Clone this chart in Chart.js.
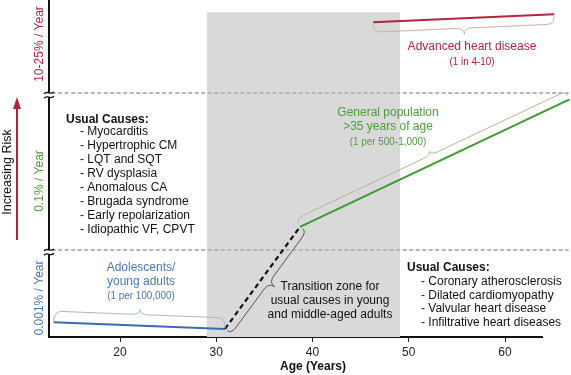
<!DOCTYPE html>
<html>
<head>
<meta charset="utf-8">
<script src="https://cdn.jsdelivr.net/npm/chart.js@4"></script>
<style>
  body { margin: 0; background: #fff; }
  #wrap { width: 571px; height: 375px; position: relative; }
</style>
</head>
<body>
<div id="wrap"><canvas id="chart_risk"></canvas></div>
<script>
// values (risk is an arbitrary 0-100 scale)
const xTicks = [20, 30, 40, 50, 60];
const youngAge = [13.1, 30.9];
const youngRisk = [4.4, 2.4];
const transitionAge = [30.9, 38.7];
const transitionRisk = [2.4, 32.7];
const generalAge = [38.7, 66.7];
const generalRisk = [32.7, 70.5];
const advancedAge = [46.3, 65.1];
const advancedRisk = [93.4, 95.8];
const zoneAge = [29.0, 49.1];
const zoneTop = [96.4, 96.4];
const breakAge = [12.9, 66.6];
const breakRisk = [25.8, 72.4];
const bandLabels = ['10-25% / Year', '0.1% / Year', '0.001% / Year'];
const youngCauses = ['Myocarditis', 'Hypertrophic CM', 'LQT and SQT', 'RV dysplasia',
  'Anomalous CA', 'Brugada syndrome', 'Early repolarization', 'Idiopathic VF, CPVT'];
const olderCauses = ['Coronary atherosclerosis', 'Dilated cardiomyopathy',
  'Valvular heart disease', 'Infiltrative heart diseases'];

const FONT = '"Liberation Sans", Arial, sans-serif';
const RED = '#b1253d', GREEN = '#4f9a3e', BLUE = '#4a77b4';

function pts(xs, ys) {
  return xs.map((x, i) => ({ x: x, y: ys[i] }));
}

function drawBrace(ctx, a, b, side, e, body, tip, color) {
  const dx = b.x - a.x, dy = b.y - a.y, L = Math.hypot(dx, dy);
  const ux = dx / L, uy = dy / L, nx = uy * side, ny = -ux * side;
  const P = (s, d) => [a.x + ux * s + nx * d, a.y + uy * s + ny * d];
  const r = Math.min(8, L / 6), m = L / 2;
  ctx.save();
  ctx.strokeStyle = color;
  ctx.lineWidth = 1;
  ctx.beginPath();
  ctx.moveTo(...P(0, e));
  ctx.quadraticCurveTo(...P(0, body), ...P(r, body));
  ctx.lineTo(...P(m - r, body));
  ctx.quadraticCurveTo(...P(m, body), ...P(m, tip));
  ctx.quadraticCurveTo(...P(m, body), ...P(m + r, body));
  ctx.lineTo(...P(L - r, body));
  ctx.quadraticCurveTo(...P(L, body), ...P(L, e));
  ctx.stroke();
  ctx.restore();
}

function write(ctx, str, x, y, font, color, align) {
  ctx.font = font;
  ctx.fillStyle = color;
  ctx.textAlign = align || 'center';
  ctx.textBaseline = 'middle';
  ctx.fillText(str, x, y);
}

// small condensed note like "(1 per 100,000)"
function note(ctx, str, x, y, color) {
  ctx.save();
  ctx.translate(x, y);
  ctx.scale(0.86, 1);
  write(ctx, str, 0, 0, '11.5px ' + FONT, color);
  ctx.restore();
}

const annotations = {
  id: 'annotations',
  afterDraw(chart) {
    const ctx = chart.ctx;
    const area = chart.chartArea;

    // braces along the risk lines
    const braces = [
      { ds: 2, side: 1, e: 1, body: 11, tip: 16, color: '#a7b6c8' },
      { ds: 0, side: 1, e: 4, body: 9, tip: 13, color: '#aebb92' },
      { ds: 1, side: -1, e: 2, body: 10, tip: 16, color: '#cdb09c' },
      { ds: 3, side: -1, e: 3, body: 8, tip: 15, color: '#555' }
    ];
    braces.forEach(br => {
      const d = chart.getDatasetMeta(br.ds).data;
      drawBrace(ctx, d[0], d[1], br.side, br.e, br.body, br.tip, br.color);
    });

    // axis breaks
    const ys = chart.scales.y;
    breakRisk.forEach(v => {
      const y = ys.getPixelForValue(v) + 2;
      const x = area.left;
      ctx.save();
      ctx.fillStyle = '#fff';
      ctx.fillRect(x - 2, y - 2, 4, 4);
      ctx.strokeStyle = '#111';
      ctx.lineWidth = 1.3;
      [-2.2, 2.2].forEach(o => {
        ctx.beginPath();
        ctx.moveTo(x - 5, y + o + 1);
        ctx.bezierCurveTo(x - 2, y + o - 3, x + 2, y + o + 3, x + 5, y + o - 1);
        ctx.stroke();
      });
      ctx.restore();
    });

    // rotated band labels and the risk arrow
    const bandY = [44, 181, 298];
    const bandColors = [RED, GREEN, BLUE];
    bandLabels.forEach((s, i) => {
      ctx.save();
      ctx.translate(40, bandY[i]);
      ctx.rotate(-Math.PI / 2);
      write(ctx, s, 0, 0, '12px ' + FONT, bandColors[i]);
      ctx.restore();
    });
    ctx.save();
    ctx.translate(8, 172);
    ctx.rotate(-Math.PI / 2);
    write(ctx, 'Increasing Risk', 0, 0, '12.5px ' + FONT, '#111');
    ctx.restore();

    ctx.save();
    ctx.strokeStyle = '#a8283b';
    ctx.fillStyle = '#a8283b';
    ctx.lineWidth = 2;
    ctx.beginPath();
    ctx.moveTo(17, 240);
    ctx.lineTo(17, 106);
    ctx.stroke();
    ctx.beginPath();
    ctx.moveTo(17, 97);
    ctx.lineTo(21, 109);
    ctx.lineTo(13, 109);
    ctx.closePath();
    ctx.fill();
    ctx.restore();

    // causes lists
    write(ctx, 'Usual Causes:', 66, 120, 'bold 12px ' + FONT, '#111', 'left');
    youngCauses.forEach((s, i) => write(ctx, '- ' + s, 80, 132 + i * 13.9, '12px ' + FONT, '#111', 'left'));
    write(ctx, 'Usual Causes:', 407, 268, 'bold 12px ' + FONT, '#111', 'left');
    olderCauses.forEach((s, i) => write(ctx, '- ' + s, 421, 281.5 + i * 13.7, '12px ' + FONT, '#111', 'left'));

    // group labels
    ['Transition zone for', 'usual causes in young', 'and middle-aged adults']
      .forEach((s, i) => write(ctx, s, 330, 287 + i * 13.6, '12px ' + FONT, '#111'));
    write(ctx, 'Adolescents/', 141, 268, '12px ' + FONT, BLUE);
    write(ctx, 'young adults', 141, 282, '12px ' + FONT, BLUE);
    note(ctx, '(1 per 100,000)', 141, 296, BLUE);
    write(ctx, 'General population', 388, 113, '12px ' + FONT, GREEN);
    write(ctx, '>35 years of age', 388, 127, '12px ' + FONT, GREEN);
    note(ctx, '(1 per 500-1,000)', 388, 142, GREEN);
    write(ctx, 'Advanced heart disease', 472, 47, '12px ' + FONT, RED);
    note(ctx, '(1 in 4-10)', 472, 62, RED);

    write(ctx, 'Age (Years)', 313, 367, 'bold 12px ' + FONT, '#111');
  }
};

new Chart(document.getElementById('chart_risk'), {
  type: 'line',
  data: {
    datasets: [
      { data: pts(generalAge, generalRisk), borderColor: '#3d9a30', borderWidth: 2, clip: false, order: 1 },
      { data: pts(advancedAge, advancedRisk), borderColor: '#b1253d', borderWidth: 2, clip: false, order: 1 },
      { data: pts(youngAge, youngRisk), borderColor: '#3b6cb3', borderWidth: 2, order: 1 },
      { data: pts(transitionAge, transitionRisk), borderColor: '#111', borderWidth: 2.2, borderDash: [5, 3.5], order: 1 },
      { data: pts(breakAge, [breakRisk[0], breakRisk[0]]), borderColor: '#b5b5b5', borderWidth: 2, borderDash: [4, 2.5], clip: false, order: 2 },
      { data: pts(breakAge, [breakRisk[1], breakRisk[1]]), borderColor: '#b5b5b5', borderWidth: 2, borderDash: [4, 2.5], clip: false, order: 2 },
      { data: pts(zoneAge, zoneTop), borderWidth: 0, backgroundColor: '#d9d9d9', fill: 'start', order: 3 }
    ]
  },
  options: {
    responsive: true,
    maintainAspectRatio: false,
    animation: false,
    layout: { padding: { left: 0, right: 29, top: 0, bottom: 0 } },
    plugins: { legend: { display: false }, tooltip: { enabled: false } },
    elements: { point: { radius: 0 }, line: { tension: 0 } },
    scales: {
      x: {
        type: 'linear',
        min: 12.62,
        max: 63.84,
        afterFit: function (s) { s.height = 38; },
        afterBuildTicks: function (s) { s.ticks = xTicks.map(v => ({ value: v })); },
        grid: { drawOnChartArea: false, tickLength: 5, color: '#222', lineWidth: 1 },
        border: { color: '#111', width: 2 },
        ticks: { color: '#222', font: { family: FONT, size: 12 }, padding: 3, maxRotation: 0 }
      },
      y: {
        min: 0,
        max: 100,
        afterFit: function (s) { s.width = 49; },
        grid: { display: false },
        ticks: { display: false },
        border: { color: '#111', width: 2 }
      }
    }
  },
  plugins: [annotations]
});
</script>
</body>
</html>
